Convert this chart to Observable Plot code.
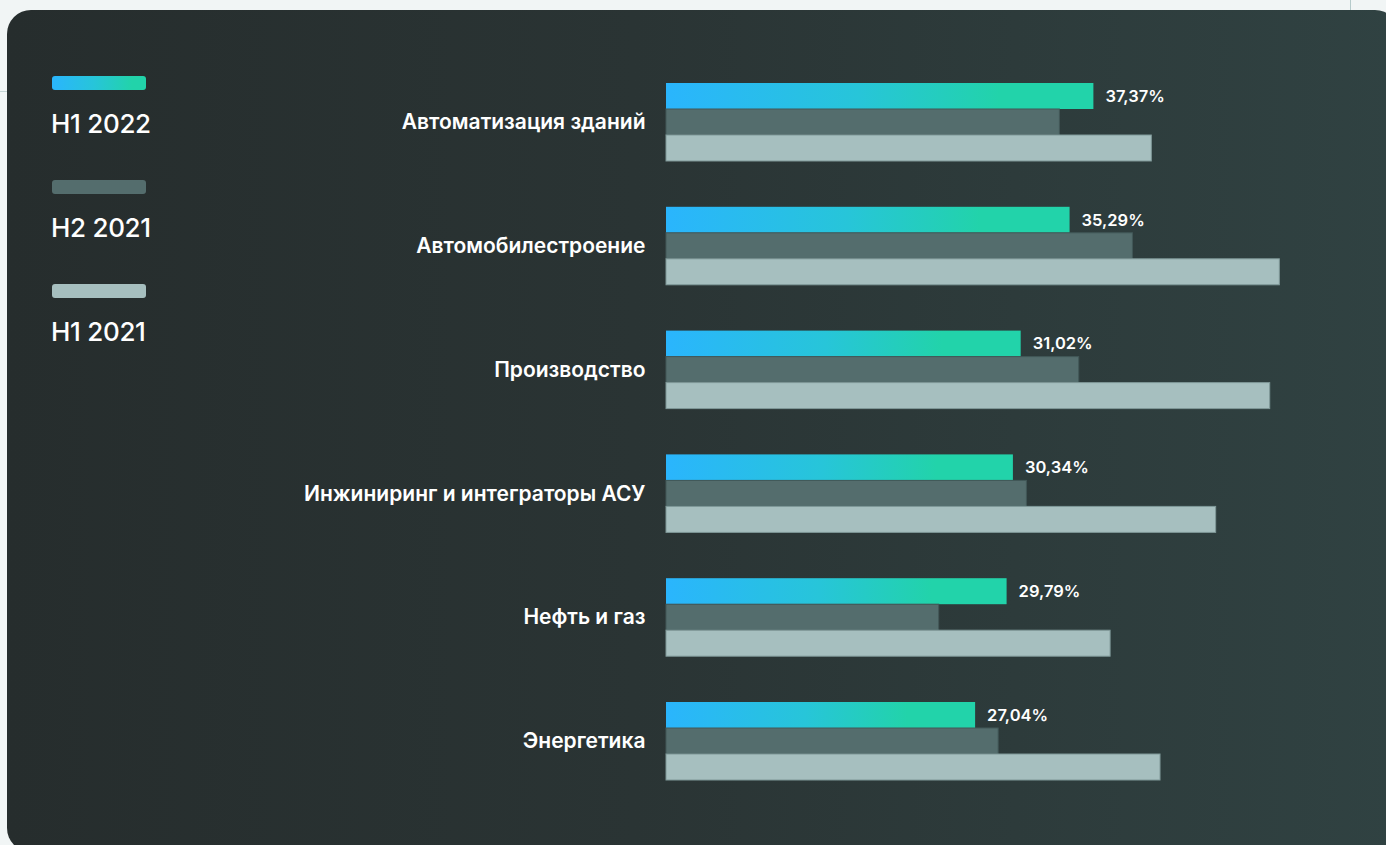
<!DOCTYPE html>
<html>
<head>
<meta charset="utf-8">
<script src="https://cdn.jsdelivr.net/npm/d3@7"></script>
<script src="https://cdn.jsdelivr.net/npm/@observablehq/plot@0.6"></script>
<style>
  html, body { margin: 0; padding: 0; background: #f1f5f5; width: 1386px; height: 845px; overflow: hidden; font-family: Inter, "Noto Sans", sans-serif; }
  #page { position: relative; width: 1386px; height: 845px; }
  .hline { position: absolute; left: 0; top: 91px; width: 8px; height: 1px; background: #c3d4d4; }
  .vline { position: absolute; left: 1350px; top: 0; width: 1px; height: 11px; background: #b5caca; }
  #card { position: absolute; left: 7px; top: 10px; width: 1392px; height: 842px; border-radius: 24px;
          background: linear-gradient(90deg, #262d2d 0%, #2a3434 45%, #304242 100%); }
  #chart { position: absolute; left: 0; top: 0; }
  .legend-item { position: absolute; left: 51px; color: #ffffff; font-size: 26px; font-weight: 500; letter-spacing: -0.3px; }
  .legend-item .sw { width: 94px; height: 14px; border-radius: 3px; margin-left: 1px; margin-bottom: 18px; }
</style>
</head>
<body>
<div id="page">
  <div class="hline"></div>
  <div class="vline"></div>
  <div id="card"></div>
  <div id="legend"></div>
  <div id="chart"></div>
</div>
<script>
const categories = [
  "Автоматизация зданий",
  "Автомобилестроение",
  "Производство",
  "Инжиниринг и интеграторы АСУ",
  "Нефть и газ",
  "Энергетика"
];
const seriesNames = ["H1 2022", "H2 2021", "H1 2021"];
const h1_2022 = [37.37, 35.29, 31.02, 30.34, 29.79, 27.04];
const h2_2021 = [34.40, 40.78, 36.09, 31.52, 23.86, 29.05];
const h1_2021 = [42.43, 53.61, 52.77, 48.05, 38.83, 43.19];

const seriesFill = ["url(#barGrad)", "#546d6d", "#a6bfbf"];
const seriesStroke = ["none", "#425858", "#7f9898"];
const legendSwatch = ["linear-gradient(90deg, #2ab5fd 0%, #27c5d9 45%, #22d3aa 85%)", "#546d6d", "#a6bfbf"];

const valuesBySeries = [h1_2022, h2_2021, h1_2021];
const rows = [];
seriesNames.forEach((s, si) => {
  categories.forEach((c, ci) => {
    rows.push({category: c, series: s, value: valuesBySeries[si][ci]});
  });
});
const fmt = v => v.toFixed(2).replace(".", ",") + "%";

const plot = Plot.plot({
  width: 1386,
  height: 845,
  marginLeft: 666,
  marginRight: 33,
  marginTop: 83,
  marginBottom: 65,
  style: {fontFamily: "Inter, 'Noto Sans', sans-serif", fontSize: "21px", fontWeight: 600, color: "#ffffff", background: "transparent", overflow: "visible"},
  x: {domain: [0, 60], axis: null},
  y: {domain: seriesNames, padding: 0, round: false, axis: null},
  fy: {domain: categories, paddingInner: 0.37, paddingOuter: 0, round: false, label: null, axis: "left", tickSize: 0, tickPadding: 21},
  marks: [
    ...seriesNames.map((s, si) => Plot.barX(rows.filter(d => d.series === s), {
      fy: "category", y: "series", x: "value",
      fill: seriesFill[si], stroke: seriesStroke[si], strokeWidth: 1, insetRight: 0.5
    })),
    Plot.text(rows.filter(d => d.series === seriesNames[0]), {
      fy: "category", y: "series", x: "value", text: d => fmt(d.value),
      textAnchor: "start", dx: 11, fill: "#ffffff", fontSize: 16.5, fontWeight: 600
    })
  ]
});

// gradient definition for the H1 2022 bars
const ns = "http://www.w3.org/2000/svg";
const defs = document.createElementNS(ns, "defs");
const grad = document.createElementNS(ns, "linearGradient");
grad.setAttribute("id", "barGrad");
grad.setAttribute("x1", "0"); grad.setAttribute("x2", "1");
grad.setAttribute("y1", "0"); grad.setAttribute("y2", "0");
[["0", "#2ab5fd"], ["0.45", "#27c5d9"], ["0.78", "#22d3aa"], ["1", "#22d3aa"]].forEach(([o, c]) => {
  const st = document.createElementNS(ns, "stop");
  st.setAttribute("offset", o); st.setAttribute("stop-color", c);
  grad.appendChild(st);
});
defs.appendChild(grad);
plot.insertBefore(defs, plot.firstChild);
document.getElementById("chart").appendChild(plot);

// legend
const legend = document.getElementById("legend");
seriesNames.forEach((s, i) => {
  const item = document.createElement("div");
  item.className = "legend-item";
  item.style.top = (76 + i * 104) + "px";
  const sw = document.createElement("div");
  sw.className = "sw";
  sw.style.background = legendSwatch[i];
  const label = document.createElement("div");
  label.textContent = s;
  item.appendChild(sw);
  item.appendChild(label);
  legend.appendChild(item);
});
</script>
</body>
</html>
